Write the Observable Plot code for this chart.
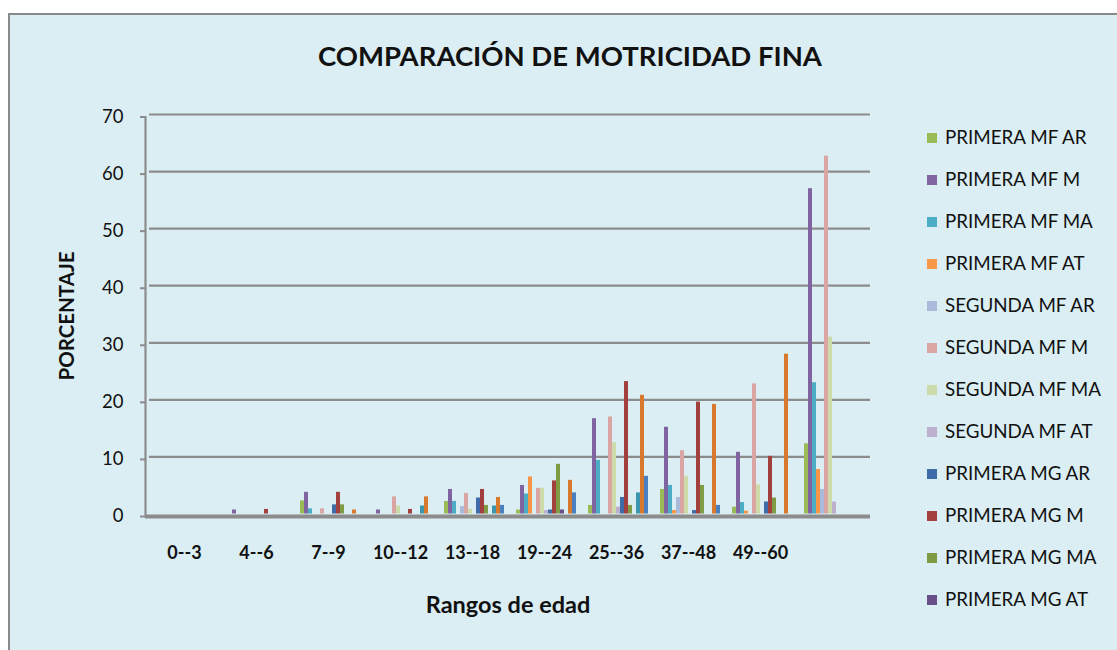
<!DOCTYPE html>
<html>
<head>
<meta charset="utf-8">
<script src="https://cdn.jsdelivr.net/npm/d3@7"></script>
<script src="https://cdn.jsdelivr.net/npm/@observablehq/plot@0.6"></script>
<style>
  body { margin: 0; background: #ffffff; }
  #wrap { position: relative; width: 1117px; height: 650px; overflow: hidden; font-family: Lato, "Open Sans", sans-serif; color: #111; }
  #box { position: absolute; left: 8px; top: 13px; width: 1140px; height: 680px; background: #DAEEF3; border: 2px solid #8a8a8a; box-sizing: border-box; }
  #title { position: absolute; left: 570px; top: 55px; transform: translate(-50%, -50%); font-weight: bold; font-size: 27.5px; white-space: nowrap; }
  #ylab { position: absolute; left: 66px; top: 316px; transform: translate(-50%, -50%) rotate(-90deg); font-weight: bold; font-size: 20.5px; white-space: nowrap; }
  #xlab { position: absolute; left: 508px; top: 604px; transform: translate(-50%, -50%); font-weight: bold; font-size: 23.5px; white-space: nowrap; }
  .layer { position: absolute; left: 0; top: 0; }
  #legend { position: absolute; left: 927px; top: 0; }
  .li { position: absolute; left: 0; white-space: nowrap; font-size: 18.8px; line-height: 22px; transform: translateY(-50%); }
  .sw { display: inline-block; width: 10px; height: 10px; margin-right: 8px; vertical-align: 1px; }
</style>
</head>
<body>
<div id="wrap">
  <div id="box"></div>
  <div id="title">COMPARACIÓN DE MOTRICIDAD FINA</div>
  <div id="base" class="layer"></div>
  <div id="bars" class="layer"></div>
  <div id="ylab">PORCENTAJE</div>
  <div id="xlab">Rangos de edad</div>
  <div id="legend"></div>
</div>
<script>
// ---- data ----
const categories = ["0--3", "4--6", "7--9", "10--12", "13--18", "19--24", "25--36", "37--48", "49--60", ""];
const yTicks = [0, 10, 20, 30, 40, 50, 60, 70];

const seriesNames = [
  "PRIMERA MF AR", "PRIMERA MF M", "PRIMERA MF MA", "PRIMERA MF AT",
  "SEGUNDA MF AR", "SEGUNDA MF M", "SEGUNDA MF MA", "SEGUNDA MF AT",
  "PRIMERA MG AR", "PRIMERA MG M", "PRIMERA MG MA", "PRIMERA MG AT",
  "SEGUNDA MG AR", "SEGUNDA MG M", "SEGUNDA MG MA", "SEGUNDA MG AT"
];
// legend in the reference only lists the first twelve series
const legendNames = seriesNames.slice(0, 12);

const colors = [
  "#9BBB59", "#8064A2", "#4BACC6", "#F79646",
  "#A9BADB", "#DBA5A4", "#CBDBAA", "#BDB0CF",
  "#3F6CA8", "#A33F3C", "#7F9C45", "#684F8A",
  "#3A97AF", "#D9792D", "#4A80C0", "#B34C48"
];

const primeraMfAr  = [0, 0,   2.3, 0,   2.2, 0.7, 1.5,  4.3,  1.2, 12.3];
const primeraMfM   = [0, 0.7, 3.8, 0.7, 4.3, 5.0, 16.7, 15.2, 10.8, 57.0];
const primeraMfMa  = [0, 0,   0.9, 0,   2.2, 3.5, 9.4,  5.0,  2.0, 23.0];
const primeraMfAt  = [0, 0,   0,   0,   0,   6.5, 0,    0.6,  0.5, 7.8];
const segundaMfAr  = [0, 0,   0,   0,   1.3, 0,   0,    2.9,  0,   4.3];
const segundaMfM   = [0, 0,   0.9, 3.0, 3.6, 4.5, 17.0, 11.1, 22.8, 62.7];
const segundaMfMa  = [0, 0,   0,   1.4, 0.8, 4.5, 12.5, 6.6,  5.1, 31.0];
const segundaMfAt  = [0, 0,   0,   0,   0,   0.6, 1.2,  0,    0,   2.1];
const primeraMgAr  = [0, 0,   1.6, 0,   2.8, 0.7, 2.9,  0.6,  2.1, 0];
const primeraMgM   = [0, 0.8, 3.8, 0.8, 4.3, 5.8, 23.2, 19.6, 10.1, 0];
const primeraMgMa  = [0, 0,   1.6, 0,   1.5, 8.7, 1.5,  5.0,  2.8, 0];
const primeraMgAt  = [0, 0,   0,   0,   0,   0.7, 0,    0,    0,   0];
const segundaMgAr  = [0, 0,   0,   1.4, 1.4, 0,   3.7,  0,    0,   0];
const segundaMgM   = [0, 0,   0.7, 3.0, 2.9, 5.9, 20.8, 19.2, 28.0, 0];
const segundaMgMa  = [0, 0,   0,   0,   1.5, 3.7, 6.6,  1.5,  0,   0];
const segundaMgAt  = [0, 0,   0,   0,   0,   0,   0,    0,    0,   0];

const seriesValues = [
  primeraMfAr, primeraMfM, primeraMfMa, primeraMfAt,
  segundaMfAr, segundaMfM, segundaMfMa, segundaMfAt,
  primeraMgAr, primeraMgM, primeraMgMa, primeraMgAt,
  segundaMgAr, segundaMgM, segundaMgMa, segundaMgAt
];

// tidy rows
const rows = [];
seriesNames.forEach((s, si) => {
  categories.forEach((c, ci) => {
    rows.push({cat: c, series: s, value: seriesValues[si][ci]});
  });
});

const W = 1117, H = 650;
const M = {marginLeft: 145, marginRight: 247, marginTop: 116.5, marginBottom: 134};
const bandOpts = {paddingInner: 0.075, paddingOuter: 0.0375};

// ---- base layer: axes, gridlines, floor ----
const base = Plot.plot({
  width: W, height: H, ...M,
  style: {background: "transparent", fontFamily: "Lato, sans-serif", fontSize: "18px", color: "#111", overflow: "visible"},
  x: {domain: categories, ...bandOpts, label: null},
  y: {domain: [0, 70], label: null},
  marks: [
    Plot.ruleY(yTicks.filter(d => d > 0), {stroke: "#8c8c8c", strokeWidth: 2.2, dx: 4, dy: -2.5, insetRight: 4}),
    Plot.frame({anchor: "left", stroke: "#8c8c8c", strokeWidth: 2.2}),
    Plot.ruleY([0], {stroke: "#8c8c8c", strokeWidth: 4}),
    Plot.axisY(yTicks, {anchor: "left", tickSize: 5, tickPadding: 17, stroke: "#8c8c8c", strokeWidth: 2, fill: "#111", fontSize: 18.5}),
    Plot.axisX({anchor: "bottom", tickSize: 0, tickPadding: 30, fill: "#111", fontSize: 18, fontWeight: "bold"})
  ]
});
document.getElementById("base").appendChild(base);

// ---- bars layer: clustered columns ----
const bars = Plot.plot({
  width: W, height: H, ...M,
  style: {background: "transparent", overflow: "visible"},
  fx: {domain: categories, ...bandOpts, axis: null, label: null},
  x: {domain: seriesNames, padding: 0, axis: null},
  y: {domain: [0, 70], axis: null},
  color: {domain: seriesNames, range: colors},
  marks: [
    Plot.barY(rows, {fx: "cat", x: "series", y: "value", fill: "series", inset: 0, dx: 4, dy: -2.5})
  ]
});
document.getElementById("bars").appendChild(bars);

// ---- legend ----
const legend = document.getElementById("legend");
legendNames.forEach((name, i) => {
  const div = document.createElement("div");
  div.className = "li";
  div.style.top = (136.5 + 42 * i) + "px";
  const sw = document.createElement("span");
  sw.className = "sw";
  sw.style.background = colors[i];
  div.appendChild(sw);
  div.appendChild(document.createTextNode(name));
  legend.appendChild(div);
});
</script>
</body>
</html>
